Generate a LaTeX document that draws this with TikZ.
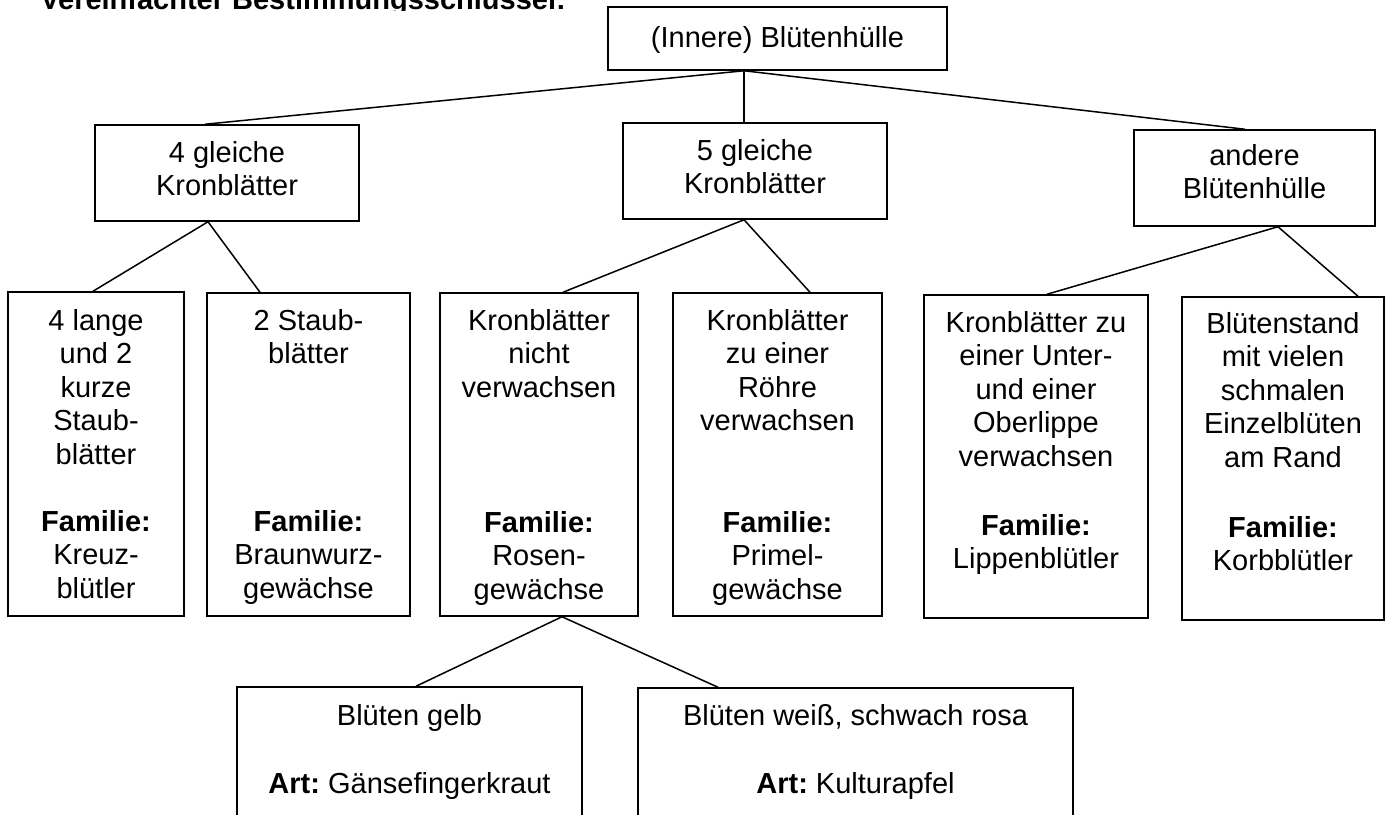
\documentclass[tikz,border=0pt]{standalone}
\usepackage{fontspec}
\setmainfont{Liberation Sans}
\usetikzlibrary{calc}
\frenchspacing
\begin{document}
\begin{tikzpicture}[x=0.5pt,y=-0.5pt,
  box/.style={draw, line width=0.75pt, inner sep=0pt},
  conn/.style={line width=0.75pt},
  txt/.style={font=\fontsize{14.5}{16.75}\selectfont, inner sep=0pt, anchor=base}]
\useasboundingbox (0,0) rectangle (1391,814);
\fill[white] (0,0) rectangle (1391,814);
\clip (0,0) rectangle (1391,814);
\newcommand{\lines}[1]{\begin{tabular}[t]{@{}c@{}}#1\end{tabular}}
% title (cut off at the top edge)
\begin{scope}
\clip (0,0) rectangle (1391,10);
\node[txt, anchor=base west] (title) at (40,9) {\bfseries Vereinfachter Bestimmungsschlüssel:};
\end{scope}
% boxes
\node[box, minimum width=169.5pt, minimum height=31.5pt] (root) at (777.5,38.5) {};
\node[box, minimum width=132pt, minimum height=48pt] (A) at (227,173) {};
\node[box, minimum width=132pt, minimum height=48pt] (B) at (755,171) {};
\node[box, minimum width=120.5pt, minimum height=48pt] (C) at (1254.5,178) {};
\node[box, minimum width=88pt, minimum height=162pt] (L1) at (96,454) {};
\node[box, minimum width=101.5pt, minimum height=161.5pt] (L2) at (308.5,454.5) {};
\node[box, minimum width=99pt, minimum height=161.5pt] (L3) at (539,454.5) {};
\node[box, minimum width=104.5pt, minimum height=161.5pt] (L4) at (777.5,454.5) {};
\node[box, minimum width=112pt, minimum height=161.5pt] (L5) at (1036,456.5) {};
\node[box, minimum width=101pt, minimum height=161.5pt] (L6) at (1283,458.5) {};
\node[box, minimum width=172.5pt, minimum height=91.5pt] (D1) at (409.5,778.5) {};
\node[box, minimum width=217.5pt, minimum height=91pt] (D2) at (855.5,779) {};
% texts
\node[txt] (troot) at (777.5,47) {(Innere) Blütenhülle};
\node[txt] (tA) at (227,162) {\lines{4 gleiche\\Kronblätter}};
\node[txt] (tB) at (755,160) {\lines{5 gleiche\\Kronblätter}};
\node[txt] (tC) at (1254.5,165) {\lines{andere\\Blütenhülle}};
\node[txt] (tL1) at (96,330) {\lines{4 lange\\und 2\\kurze\\Staub-\\blätter}};
\node[txt] (fL1) at (96,531) {\lines{\textbf{Familie:}\\Kreuz-\\blütler}};
\node[txt] (tL2) at (308.5,330) {\lines{2 Staub-\\blätter}};
\node[txt] (fL2) at (308.5,531) {\lines{\textbf{Familie:}\\Braunwurz-\\gewächse}};
\node[txt] (tL3) at (539,330) {\lines{Kronblätter\\nicht\\verwachsen}};
\node[txt] (fL3) at (539,532) {\lines{\textbf{Familie:}\\Rosen-\\gewächse}};
\node[txt] (tL4) at (777.5,330) {\lines{Kronblätter\\zu einer\\Röhre\\verwachsen}};
\node[txt] (fL4) at (777.5,532) {\lines{\textbf{Familie:}\\Primel-\\gewächse}};
\node[txt] (tL5) at (1036,332) {\lines{Kronblätter zu\\einer Unter-\\und einer\\Oberlippe\\verwachsen}};
\node[txt] (fL5) at (1036,535) {\lines{\textbf{Familie:}\\Lippenblütler}};
\node[txt] (tL6) at (1283,333) {\lines{Blütenstand\\mit vielen\\schmalen\\Einzelblüten\\am Rand}};
\node[txt] (fL6) at (1283,537) {\lines{\textbf{Familie:}\\Korbblütler}};
\node[txt] (tD1) at (409.5,725) {Blüten gelb};
\node[txt] (aD1) at (409.5,793) {\textbf{Art:} Gänsefingerkraut};
\node[txt] (tD2) at (855.5,725) {Blüten weiß, schwach rosa};
\node[txt] (aD2) at (855.5,793) {\textbf{Art:} Kulturapfel};
% connectors
\draw[conn] ($(root.south)+(-33.5,0)$) -- ($(A.north)+(-22,0)$);
\draw[conn] ($(root.south)+(-33.5,0)$) -- ($(B.north)+(-11,0)$);
\draw[conn] ($(root.south)+(-33.5,0)$) -- ($(C.north)+(-9.5,0)$);
\draw[conn] ($(A.south)+(-19,0)$) -- ($(L1.north)+(-3,0)$);
\draw[conn] ($(A.south)+(-19,0)$) -- ($(L2.north)+(-48.5,0)$);
\draw[conn] ($(B.south)+(-11,0)$) -- ($(L3.north)+(24,0)$);
\draw[conn] ($(B.south)+(-11,0)$) -- ($(L4.north)+(32.5,0)$);
\draw[conn] ($(C.south)+(23.5,0)$) -- ($(L5.north)+(11,0)$);
\draw[conn] ($(C.south)+(23.5,0)$) -- ($(L6.north)+(75,0)$);
\draw[conn] ($(L3.south)+(23,0)$) -- ($(D1.north)+(6.5,0)$);
\draw[conn] ($(L3.south)+(23,0)$) -- ($(D2.north)+(-137.5,0)$);
\end{tikzpicture}
\end{document}
